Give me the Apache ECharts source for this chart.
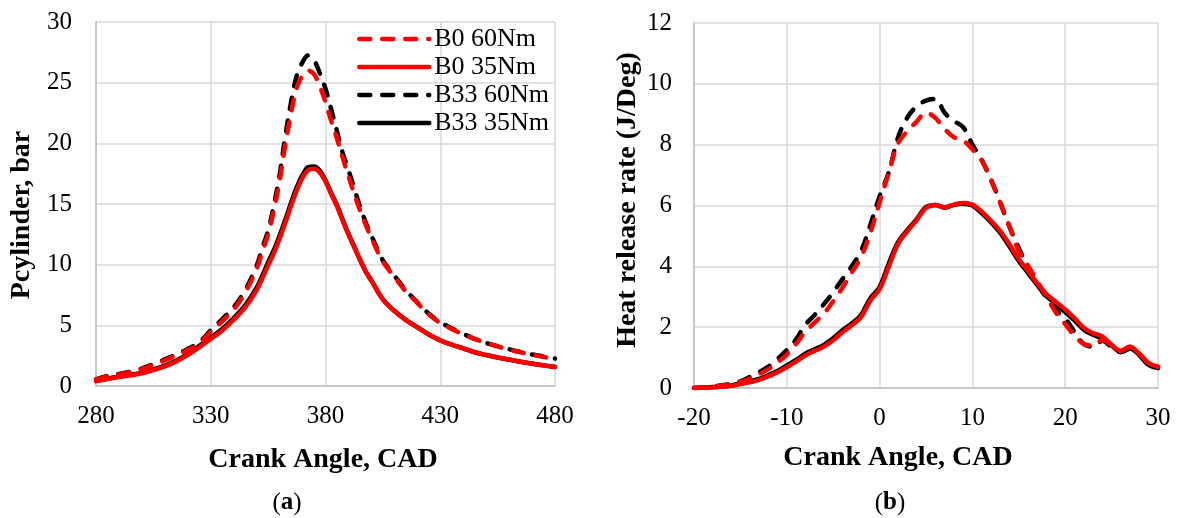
<!DOCTYPE html>
<html>
<head>
<meta charset="utf-8">
<script src="https://cdn.jsdelivr.net/npm/echarts@6/dist/echarts.min.js"></script>
<style>
  html, body { margin: 0; padding: 0; background: #ffffff; }
  #chart { width: 1177px; height: 518px; }
</style>
</head>
<body>
<div id="chart"></div>
<script>
// Panel (a): in-cylinder pressure vs crank angle
const cadA = [280, 285, 290, 295, 300, 305, 310, 315, 320, 325, 330, 335, 340, 345, 350,
  352.5, 355, 357.5, 360, 362.5, 365, 367.5, 370, 372.5, 375, 377.5, 380, 382.5, 385, 387.5,
  390, 392.5, 395, 397.5, 400, 405, 410, 415, 420, 425, 430, 435, 440, 445, 450, 455, 460,
  465, 470, 475, 480];
const pB0_60 = [0.52, 0.78, 0.96, 1.14, 1.40, 1.74, 2.12, 2.52, 2.96, 3.50, 4.45, 5.35, 6.30, 7.70, 9.65,
  11.1, 12.5, 14.5, 16.9, 19.9, 22.5, 24.6, 25.6, 26.0, 25.7, 24.7, 23.4, 21.85, 20.4, 18.8,
  17.3, 15.85, 14.5, 13.3, 12.2, 10.25, 9.0, 7.8, 6.85, 5.9, 5.2, 4.7, 4.25, 3.88, 3.55, 3.26, 3.0,
  2.78, 2.58, 2.40, 2.22];
const pB0_35 = [0.40, 0.58, 0.74, 0.88, 1.05, 1.32, 1.62, 2.03, 2.57, 3.20, 3.87, 4.58, 5.46, 6.48, 7.90,
  8.88, 9.96, 10.95, 12.15, 13.45, 14.85, 16.15, 17.15, 17.80, 17.90, 17.60, 16.85, 15.80, 14.80, 13.62,
  12.48, 11.44, 10.45, 9.42, 8.66, 7.12, 6.18, 5.43, 4.83, 4.24, 3.76, 3.40, 3.10, 2.78, 2.55, 2.35, 2.18,
  2.00, 1.84, 1.70, 1.56];
const pB33_60 = [0.55, 0.82, 1.00, 1.18, 1.45, 1.80, 2.20, 2.60, 3.05, 3.60, 4.60, 5.50, 6.50, 7.90, 9.90,
  11.4, 12.8, 14.9, 17.4, 20.6, 23.4, 25.6, 26.7, 27.25, 26.85, 25.8, 24.5, 22.8, 21.0, 19.2,
  17.8, 16.3, 14.8, 13.5, 12.4, 10.35, 9.10, 7.90, 6.90, 5.95, 5.25, 4.75, 4.30, 3.88, 3.55, 3.28, 3.03,
  2.80, 2.60, 2.43, 2.26];
const pB33_35 = [0.42, 0.62, 0.78, 0.92, 1.10, 1.38, 1.68, 2.10, 2.65, 3.30, 3.98, 4.70, 5.60, 6.65, 8.10,
  9.10, 10.20, 11.20, 12.40, 13.70, 15.10, 16.40, 17.40, 18.05, 18.10, 17.75, 16.95, 15.90, 14.90, 13.70,
  12.55, 11.50, 10.40, 9.45, 8.70, 7.15, 6.20, 5.45, 4.85, 4.25, 3.77, 3.40, 3.10, 2.78, 2.55, 2.35, 2.18,
  2.00, 1.85, 1.70, 1.57];

// Panel (b): heat release rate vs crank angle
const cadB = [-20, -19, -18, -17, -16, -15, -14, -13, -12, -11, -10, -9, -8, -7, -6, -5, -4, -3, -2, -1,
  0, 1, 2, 3, 4, 5, 6, 7, 8, 9, 10, 11, 12, 13, 14, 15, 16, 17, 18, 19, 20, 21, 22, 23, 24, 25,
  26, 27, 28, 29, 30];
const hB0_60 = [0.00, 0.02, 0.04, 0.08, 0.13, 0.20, 0.31, 0.45, 0.62, 0.84, 1.10, 1.45, 1.85, 2.15, 2.45,
  2.85, 3.30, 3.80, 4.30, 5.10, 6.10, 7.10, 8.05, 8.45, 8.76, 9.05, 8.88, 8.52, 8.25, 8.14, 7.85,
  7.48, 6.85, 6.08, 5.30, 4.50, 4.02, 3.50, 3.00, 2.48, 2.10, 1.72, 1.45, 1.40, 1.58, 1.40, 1.22,
  1.36, 1.12, 0.82, 0.70];
const hB0_35 = [0.00, 0.01, 0.02, 0.04, 0.07, 0.13, 0.19, 0.27, 0.38, 0.52, 0.68, 0.87, 1.07, 1.22, 1.36,
  1.57, 1.83, 2.06, 2.33, 2.87, 3.25, 4.00, 4.74, 5.16, 5.52, 5.92, 6.02, 5.94, 6.03, 6.08, 6.03,
  5.80, 5.50, 5.16, 4.72, 4.24, 3.84, 3.44, 3.08, 2.83, 2.58, 2.30, 1.98, 1.80, 1.70, 1.42, 1.22,
  1.36, 1.12, 0.82, 0.70];
const hB33_60 = [0.00, 0.02, 0.05, 0.09, 0.14, 0.22, 0.36, 0.52, 0.70, 0.95, 1.25, 1.60, 2.08, 2.40, 2.76,
  3.15, 3.58, 4.00, 4.50, 5.36, 6.30, 7.10, 8.25, 8.90, 9.26, 9.45, 9.50, 9.05, 8.78, 8.58, 8.00,
  7.50, 6.85, 6.10, 5.30, 4.60, 3.95, 3.45, 2.95, 2.56, 2.28, 1.85, 1.45, 1.36, 1.55, 1.35, 1.18,
  1.30, 1.08, 0.76, 0.66];
const hB33_35 = [0.00, 0.01, 0.03, 0.05, 0.08, 0.16, 0.22, 0.30, 0.42, 0.56, 0.74, 0.92, 1.13, 1.27, 1.42,
  1.64, 1.90, 2.12, 2.40, 2.95, 3.32, 4.10, 4.80, 5.20, 5.55, 5.95, 6.02, 5.93, 6.02, 6.06, 6.00,
  5.75, 5.45, 5.10, 4.65, 4.18, 3.78, 3.38, 3.02, 2.76, 2.50, 2.22, 1.92, 1.75, 1.62, 1.40, 1.18,
  1.30, 1.08, 0.76, 0.66];

const seriesNames = ['B0 60Nm', 'B0 35Nm', 'B33 60Nm', 'B33 35Nm'];
const seriesColors = ['#ff0000', '#ff0000', '#000000', '#000000'];
const seriesDashed = [true, false, true, false];

const FONT = '"Liberation Serif", "Times New Roman", serif';
const GRID_LINE = '#d9d9d9';
const AXIS_LINE = '#bfbfbf';
const LINE_W = 4.5;
const DASH = [11, 12];

function pairs(xs, ys) {
  return xs.map((x, i) => [x, ys[i]]);
}

function lineSeries(i, xs, ys, axisIndex) {
  return {
    name: seriesNames[i],
    type: 'line',
    xAxisIndex: axisIndex,
    yAxisIndex: axisIndex,
    data: pairs(xs, ys),
    smooth: 0.35,
    symbol: 'none',
    z: 10 - i,
    lineStyle: {
      color: seriesColors[i],
      width: LINE_W,
      type: seriesDashed[i] ? DASH : 'solid',
      cap: 'round'
    },
    itemStyle: { color: seriesColors[i] },
    emphasis: { disabled: true }
  };
}

function valueAxis(extra, labelMargin) {
  return Object.assign({
    type: 'value',
    axisLine: { show: true, onZero: false, lineStyle: { color: AXIS_LINE, width: 1.5 } },
    axisTick: { show: false },
    splitLine: { show: true, lineStyle: { color: GRID_LINE, width: 1.5 } },
    axisLabel: { color: '#000', fontFamily: FONT, fontSize: 25, margin: labelMargin }
  }, extra);
}

function titleText(text, x, y, rotate) {
  return {
    type: 'text',
    x: x,
    y: y,
    rotation: rotate ? Math.PI / 2 : 0,
    style: {
      text: text,
      fontFamily: FONT,
      fontWeight: 'bold',
      fontSize: 28,
      fill: '#000',
      align: 'center',
      verticalAlign: 'middle'
    }
  };
}

function panelTag(letter, x, y) {
  return {
    type: 'text',
    x: x,
    y: y,
    style: {
      text: '{p|(}{b|' + letter + '}{p|)}',
      align: 'center',
      verticalAlign: 'middle',
      rich: {
        p: { fontFamily: FONT, fontSize: 25, fill: '#000' },
        b: { fontFamily: FONT, fontSize: 25, fontWeight: 'bold', fill: '#000' }
      }
    }
  };
}

const chart = echarts.init(document.getElementById('chart'), null, { renderer: 'canvas' });

const option = {
  backgroundColor: '#ffffff',
  animation: false,
  textStyle: { fontFamily: FONT },
  grid: [
    { left: 96, right: 622, top: 22, bottom: 132 },
    { left: 694, right: 19, top: 23, bottom: 130 }
  ],
  xAxis: [
    valueAxis({ gridIndex: 0, min: 280, max: 480, interval: 50 }, 18),
    valueAxis({ gridIndex: 1, min: -20, max: 30, interval: 10 }, 18)
  ],
  yAxis: [
    valueAxis({ gridIndex: 0, min: 0, max: 30, interval: 5 }, 24),
    valueAxis({ gridIndex: 1, min: 0, max: 12, interval: 2 }, 22)
  ],
  legend: {
    data: seriesNames,
    orient: 'vertical',
    left: 352,
    top: 21,
    itemWidth: 70,
    itemHeight: 14,
    itemGap: 2,
    selectedMode: false,
    itemStyle: { opacity: 0 },
    lineStyle: { width: LINE_W, cap: 'round' },
    textStyle: { color: '#000', fontFamily: FONT, fontSize: 26, lineHeight: 26 }
  },
  series: [
    lineSeries(0, cadA, pB0_60, 0),
    lineSeries(1, cadA, pB0_35, 0),
    lineSeries(2, cadA, pB33_60, 0),
    lineSeries(3, cadA, pB33_35, 0),
    lineSeries(0, cadB, hB0_60, 1),
    lineSeries(1, cadB, hB0_35, 1),
    lineSeries(2, cadB, hB33_60, 1),
    lineSeries(3, cadB, hB33_35, 1)
  ],
  graphic: [
    titleText('Pcylinder, bar', 22, 215, true),
    titleText('Crank Angle, CAD', 323, 460, false),
    titleText('Heat release rate (J/Deg)', 628, 200, true),
    titleText('Crank Angle, CAD', 898, 458, false),
    panelTag('a', 287, 503),
    panelTag('b', 890, 503)
  ]
};

chart.setOption(option);
</script>
</body>
</html>
